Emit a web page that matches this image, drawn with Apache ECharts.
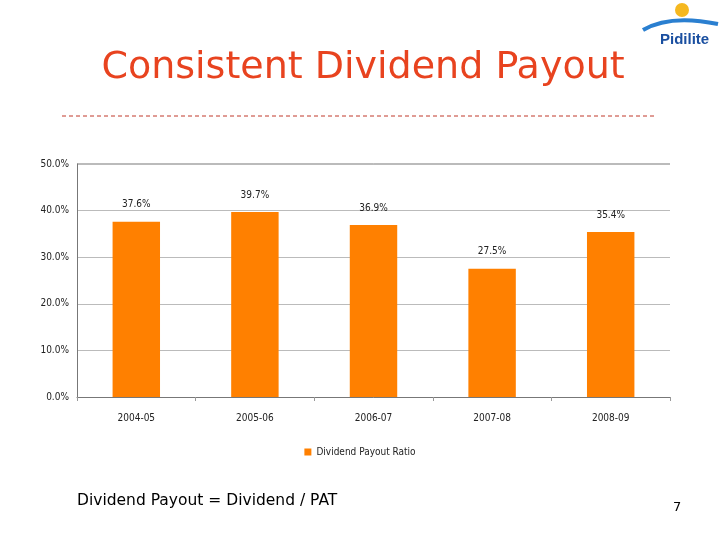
<!DOCTYPE html>
<html>
<head>
<meta charset="utf-8">
<script src="https://cdn.jsdelivr.net/npm/echarts@6/dist/echarts.min.js"></script>
<style>
  body { margin: 0; background: #fff; }
  #chart { width: 720px; height: 540px; }
</style>
</head>
<body>
<div id="chart"></div>
<script>
// 数据
var years = ['2004-05', '2005-06', '2006-07', '2007-08', '2008-09'];
var payoutRatio = [37.6, 39.7, 36.9, 27.5, 35.4];
var seriesName = 'Dividend Payout Ratio';

var myChart = echarts.init(document.getElementById('chart'));

var option = {
    backgroundColor: '#fff',
    animation: false,
    title: [
        {
            text: 'Consistent Dividend Payout',
            left: 358, top: 44, textAlign: 'center',
            textStyle: { color: '#e8431f', fontSize: 38, fontWeight: 'normal', fontFamily: 'DejaVu Sans' }
        },
        {
            text: 'Dividend Payout = Dividend / PAT',
            left: 72, top: 488,
            textStyle: { color: '#000', fontSize: 15.5, fontWeight: 'normal', fontFamily: 'DejaVu Sans' }
        },
        {
            text: '7',
            left: 668, top: 496,
            textStyle: { color: '#000', fontSize: 13, fontWeight: 'normal', fontFamily: 'DejaVu Sans' }
        },
        {
            text: 'Pidilite',
            left: 655, top: 27,
            textStyle: { color: '#1a4fa0', fontSize: 15, fontWeight: 'bold', fontFamily: 'Liberation Sans' }
        }
    ],
    graphic: [
        { type: 'line', shape: { x1: 62, y1: 116, x2: 656, y2: 116 },
          style: { stroke: '#c0392b', lineWidth: 1, lineDash: [4, 3] } },
        { type: 'circle', shape: { cx: 682, cy: 10, r: 7 }, style: { fill: '#f5b820' } },
        { type: 'bezierCurve', shape: { x1: 643, y1: 30, cpx1: 670, cpy1: 14, x2: 718, y2: 24 },
          style: { stroke: '#2a7fd0', lineWidth: 4, fill: null } },
        // 顶部边框
        { type: 'line', shape: { x1: 77, y1: 164, x2: 670, y2: 164 },
          style: { stroke: '#777', lineWidth: 1 } }
    ],
    grid: { left: 77, right: 50, top: 164, bottom: 143 },
    legend: {
        bottom: 78, left: 'center',
        itemWidth: 7, itemHeight: 7, icon: 'rect',
        textStyle: { fontSize: 10, color: '#222', fontFamily: 'DejaVu Sans Condensed' },
        data: [seriesName]
    },
    xAxis: {
        type: 'category',
        data: years,
        axisLine: { lineStyle: { color: '#777' } },
        axisTick: { show: true, alignWithLabel: false, length: 4, lineStyle: { color: '#999' } },
        axisLabel: { margin: 16, fontSize: 10, color: '#222', fontFamily: 'DejaVu Sans Condensed' }
    },
    yAxis: {
        type: 'value',
        min: 0, max: 50, interval: 10,
        axisLine: { show: true, lineStyle: { color: '#777' } },
        axisLabel: { formatter: function (v) { return v.toFixed(1) + '%'; },
                     fontSize: 10, color: '#222', fontFamily: 'DejaVu Sans Condensed', margin: 8 },
        splitLine: { lineStyle: { color: '#bbb' } }
    },
    series: [
        {
            name: seriesName,
            type: 'bar',
            barWidth: '40%',
            data: payoutRatio,
            itemStyle: { color: '#ff8000' },
            label: {
                show: true, position: 'top', distance: 12,
                formatter: function (p) { return p.value.toFixed(1) + '%'; },
                fontSize: 10, color: '#222', fontFamily: 'DejaVu Sans Condensed'
            }
        }
    ]
};

myChart.setOption(option);
</script>
</body>
</html>
